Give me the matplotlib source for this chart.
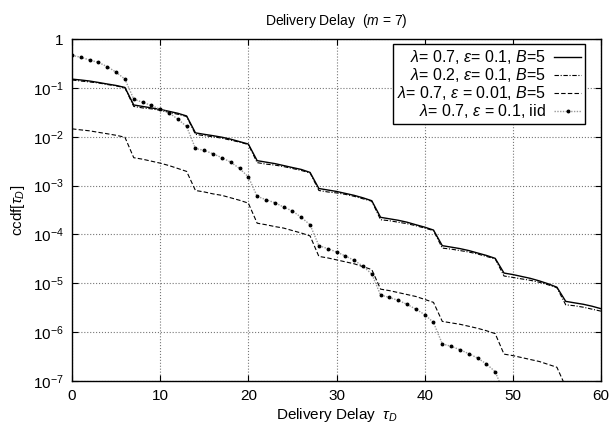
import numpy as np
import matplotlib
matplotlib.use("Agg")
import matplotlib.pyplot as plt

plt.rcParams['font.family'] = ['Liberation Sans', 'DejaVu Sans']
plt.rcParams['mathtext.fontset'] = 'custom'
plt.rcParams['mathtext.rm'] = 'Liberation Sans'
plt.rcParams['mathtext.it'] = 'Liberation Sans:italic'
plt.rcParams['mathtext.bf'] = 'Liberation Sans:bold'

# ccdf of the delivery delay at tau = 0, 1, 2, ...
ccdf_l07_e01_b5 = [
    0.151, 0.145, 0.138, 0.129, 0.120, 0.112, 0.102,
    0.0447, 0.0417, 0.0389, 0.0363, 0.0331, 0.0302, 0.0266,
    0.0120, 0.0112, 0.0105, 0.00977, 0.00891, 0.00794, 0.00708,
    0.00324, 0.00302, 0.00282, 0.00257, 0.00234, 0.00214, 0.00186,
    8.71e-4, 8.13e-4, 7.59e-4, 6.92e-4, 6.31e-4, 5.62e-4, 4.90e-4,
    2.24e-4, 2.09e-4, 1.95e-4, 1.78e-4, 1.58e-4, 1.41e-4, 1.23e-4,
    5.89e-5, 5.50e-5, 5.13e-5, 4.68e-5, 4.17e-5, 3.72e-5, 3.24e-5,
    1.62e-5, 1.51e-5, 1.38e-5, 1.26e-5, 1.12e-5, 9.77e-6, 8.32e-6,
    4.27e-6, 3.98e-6, 3.72e-6, 3.39e-6, 3.02e-6,
]
ccdf_l02_e01_b5 = [
    0.145, 0.138, 0.132, 0.126, 0.117, 0.110, 0.100,
    0.0417, 0.0389, 0.0372, 0.0347, 0.0316, 0.0288, 0.0260,
    0.0112, 0.0105, 0.0100, 0.00933, 0.00851, 0.00776, 0.00692,
    0.00295, 0.00275, 0.00263, 0.00245, 0.00224, 0.00204, 0.00182,
    7.94e-4, 7.41e-4, 7.08e-4, 6.61e-4, 6.03e-4, 5.37e-4, 4.79e-4,
    2.00e-4, 1.91e-4, 1.78e-4, 1.66e-4, 1.51e-4, 1.35e-4, 1.20e-4,
    5.25e-5, 5.01e-5, 4.68e-5, 4.37e-5, 3.98e-5, 3.55e-5, 3.16e-5,
    1.41e-5, 1.32e-5, 1.23e-5, 1.15e-5, 1.05e-5, 9.33e-6, 8.13e-6,
    3.63e-6, 3.47e-6, 3.24e-6, 2.95e-6, 2.69e-6,
]
ccdf_l07_e001_b5 = [
    0.0145, 0.0138, 0.0132, 0.0123, 0.0115, 0.0107, 0.00977,
    0.00372, 0.00347, 0.00316, 0.00288, 0.00257, 0.00224, 0.00195,
    7.94e-4, 7.41e-4, 6.76e-4, 6.31e-4, 5.62e-4, 5.01e-4, 4.37e-4,
    1.70e-4, 1.58e-4, 1.45e-4, 1.35e-4, 1.20e-4, 1.07e-4, 9.33e-5,
    3.55e-5, 3.31e-5, 3.02e-5, 2.75e-5, 2.51e-5, 2.19e-5, 1.91e-5,
    7.59e-6, 7.08e-6, 6.46e-6, 5.89e-6, 5.37e-6, 4.68e-6, 4.07e-6,
    1.66e-6, 1.55e-6, 1.45e-6, 1.32e-6, 1.20e-6, 1.07e-6, 9.33e-7,
    3.55e-7, 3.31e-7, 3.02e-7, 2.75e-7, 2.51e-7, 2.19e-7, 1.91e-7,
    7.6e-8, 7.1e-8,
]
ccdf_l07_e01_iid = [
    0.463, 0.422, 0.372, 0.331, 0.272, 0.209, 0.151,
    0.0589, 0.0507, 0.0437, 0.0363, 0.0309, 0.0229, 0.0162,
    0.00575, 0.00525, 0.00447, 0.00372, 0.00302, 0.00224, 0.00151,
    6.03e-4, 5.13e-4, 4.47e-4, 3.63e-4, 3.02e-4, 2.24e-4, 1.58e-4,
    5.89e-5, 5.13e-5, 4.37e-5, 3.63e-5, 2.95e-5, 2.24e-5, 1.55e-5,
    5.75e-6, 5.13e-6, 4.47e-6, 3.72e-6, 2.95e-6, 2.29e-6, 1.58e-6,
    5.75e-7, 5.13e-7, 4.37e-7, 3.63e-7, 2.95e-7, 2.24e-7, 1.55e-7,
    5.75e-8, 5.13e-8,
]

labels = [
    r"$\lambda$= 0.7, $\varepsilon$= 0.1, $B$=5",
    r"$\lambda$= 0.2, $\varepsilon$= 0.1, $B$=5",
    r"$\lambda$= 0.7, $\varepsilon$ = 0.01, $B$=5",
    r"$\lambda$= 0.7, $\varepsilon$ = 0.1, iid",
]
x_ticks = [0, 10, 20, 30, 40, 50, 60]
y_ticks = [1, 1e-1, 1e-2, 1e-3, 1e-4, 1e-5, 1e-6, 1e-7]
y_ticklabels = ["1"] + [r"$10^{-%d}$" % k for k in range(1, 8)]

fig = plt.figure(figsize=(6.14, 4.34), dpi=100)
ax = fig.add_axes([0.1173, 0.1221, 0.8615, 0.788])

ax.plot(np.arange(len(ccdf_l07_e01_b5)), ccdf_l07_e01_b5, color='black', lw=1.0,
        label=labels[0])
ax.plot(np.arange(len(ccdf_l02_e01_b5)), ccdf_l02_e01_b5, color='black', lw=0.8,
        dashes=(4, 1.5, 1, 1.5), label=labels[1])
ax.plot(np.arange(len(ccdf_l07_e001_b5)), ccdf_l07_e001_b5, color='black', lw=0.8,
        dashes=(4, 2), label=labels[2])
ax.plot(np.arange(len(ccdf_l07_e01_iid)), ccdf_l07_e01_iid, color='#999999', lw=1.0,
        ls=(0, (1, 1)), marker='o', ms=1.8, mfc='black', mec='black', label=labels[3])

ax.set_yscale('log')
ax.set_xlim(0, 60)
ax.set_ylim(1e-7, 1)
ax.set_xticks(x_ticks)
ax.set_yticks(y_ticks)
ax.set_yticklabels(y_ticklabels)
ax.minorticks_off()
ax.tick_params(direction='in', top=True, right=True, length=4, labelsize=11, pad=6)
ax.grid(True, color='#777777', ls=':', lw=0.8)
for s in ax.spines.values():
    s.set_linewidth(1.0)

ax.set_title(r"Delivery Delay  ($m$ = 7)", fontsize=10, pad=10)
ax.set_xlabel(r"Delivery Delay  $\tau_D$", fontsize=11, labelpad=2)
ax.set_ylabel(r"ccdf[$\tau_D$]", fontsize=11, labelpad=4)

leg = ax.legend(loc='upper right', bbox_to_anchor=(0.970, 0.985), borderaxespad=0,
                markerfirst=False, fontsize=11.5, handlelength=1.7, handletextpad=0.5,
                labelspacing=0.0, borderpad=0.25, fancybox=False, framealpha=1,
                edgecolor='black')
leg.get_frame().set_linewidth(1.0)

fig.savefig("out.png", dpi=100)
